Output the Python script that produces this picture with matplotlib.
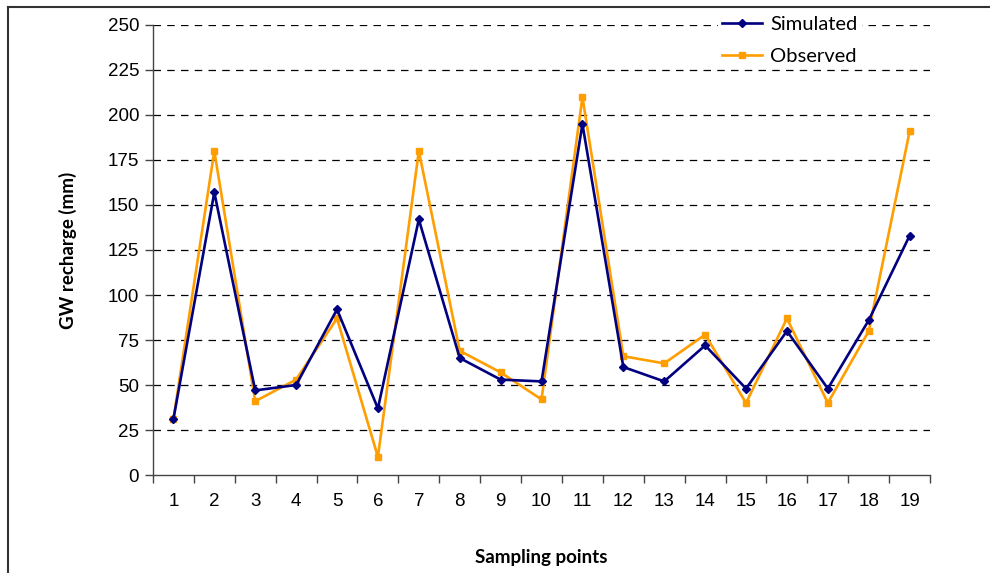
import matplotlib
matplotlib.use("Agg")
import matplotlib.pyplot as plt
from matplotlib.lines import Line2D

# Data
points = list(range(1, 20))
simulated = [31, 157, 47, 50, 92, 37, 142, 65, 53, 52, 195, 60, 52, 72, 48, 80, 48, 86, 133]
observed = [31, 180, 41, 53, 87, 10, 180, 69, 57, 42, 210, 66, 62, 78, 40, 87, 40, 80, 191]
y_ticks = [0, 25, 50, 75, 100, 125, 150, 175, 200, 225, 250]

NAVY = "#000080"
ORANGE = "#FF9E00"

fig = plt.figure(figsize=(9.9, 5.73), dpi=100)
ax = fig.add_axes([0.1545, 0.171, 0.785, 0.7854])

# Grid lines behind data
for v in y_ticks[1:]:
    ax.axhline(v, color="black", lw=0.9, ls=(0, (6, 5)), zorder=0)

ax.plot(points, simulated, color=NAVY, lw=1.9, marker="D", ms=4,
        label="Simulated", zorder=3)
ax.plot(points, observed, color=ORANGE, lw=1.9, marker="s", ms=4,
        label="Observed", zorder=2)

ax.set_xlim(0.5, 19.5)
ax.set_ylim(0, 250)
ax.set_yticks(y_ticks)
ax.set_xticks(points)
ax.set_xticks([p + 0.5 for p in range(0, 20)], minor=True)

tick_font = {"family": "Liberation Sans", "size": 13.5}
ax.set_xticklabels([str(p) for p in points], fontdict=tick_font)
ax.set_yticklabels([str(v) for v in y_ticks], fontdict=tick_font)
ax.tick_params(axis="x", which="major", length=0, pad=13)
ax.tick_params(axis="x", which="minor", length=6, width=1, color="#444444")
ax.tick_params(axis="y", length=6, width=1, color="#444444", pad=4)

for side in ["top", "right"]:
    ax.spines[side].set_visible(False)
for side in ["left", "bottom"]:
    ax.spines[side].set_color("#444444")
    ax.spines[side].set_linewidth(1)

ax.set_ylabel("GW recharge (mm)", fontsize=13.5, fontweight="bold",
              family="Lato", labelpad=22)
ax.set_xlabel("Sampling points", fontsize=13.5, fontweight="bold",
              family="Lato", labelpad=28)

leg = ax.legend(loc="upper left", bbox_to_anchor=(718 / 990, 1 - 12 / 573),
                bbox_transform=fig.transFigure, frameon=True,
                prop={"family": "Lato", "size": 14.5}, handlelength=2.0,
                handletextpad=0.4, labelspacing=0.75, borderaxespad=0,
                borderpad=0.2, fancybox=False)
leg.get_frame().set_facecolor("white")
leg.get_frame().set_edgecolor("none")
leg.get_frame().set_alpha(1)

# Outer frame (top and left edges visible)
fig.add_artist(Line2D([8 / 990, 1], [1 - 7 / 573, 1 - 7 / 573],
                      transform=fig.transFigure, color="#333333", lw=1.5))
fig.add_artist(Line2D([8 / 990, 8 / 990], [0, 1 - 7 / 573],
                      transform=fig.transFigure, color="#333333", lw=1.5))

fig.savefig("out.png", dpi=100)
